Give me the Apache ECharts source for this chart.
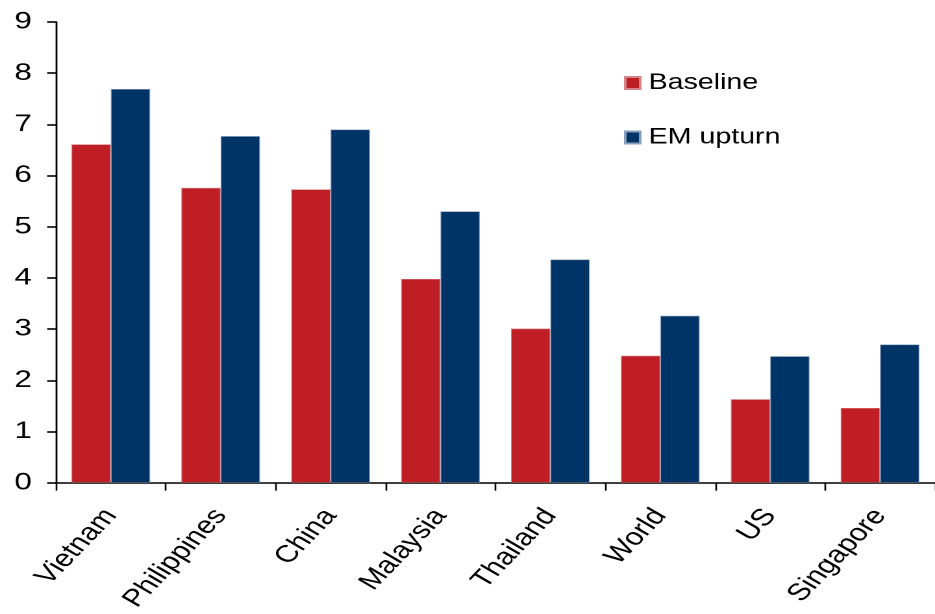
<!DOCTYPE html>
<html>
<head>
<meta charset="utf-8">
<script src="https://cdn.jsdelivr.net/npm/echarts@6/dist/echarts.min.js"></script>
<style>
  html, body { margin: 0; padding: 0; background: #fff; overflow: hidden; }
  /* The chart is laid out on a 720px-wide canvas and widened to 935px. */
  #chart {
    width: 720px;
    height: 614px;
    transform: scaleX(1.29861);
    transform-origin: 0 0;
  }
</style>
</head>
<body>
<div id="chart"></div>
<script>
// Growth outlook by economy, two scenarios
const categories = ['Vietnam', 'Philippines', 'China', 'Malaysia', 'Thailand', 'World', 'US', 'Singapore'];
const baseline = [6.61, 5.76, 5.73, 3.98, 3.01, 2.48, 1.63, 1.46];
const emUpturn = [7.69, 6.77, 6.90, 5.30, 4.36, 3.26, 2.47, 2.70];
const yTicks = [0, 1, 2, 3, 4, 5, 6, 7, 8, 9];

const FONT = 'Liberation Sans, Arial, Helvetica, sans-serif';
const RED = '#BE1E24';
const BLUE = '#003366';

const chart = echarts.init(document.getElementById('chart'), null, {
  renderer: 'canvas',
  devicePixelRatio: 2
});

chart.setOption({
  backgroundColor: '#ffffff',
  animation: false,
  textStyle: { fontFamily: FONT, color: '#000' },
  grid: { left: 43, top: 22, bottom: 128, width: 680, containLabel: false },
  legend: {
    orient: 'vertical',
    left: 475.5,
    top: 67,
    itemWidth: 11.5,
    itemHeight: 12,
    itemGap: 32.5,
    icon: 'rect',
    textStyle: {
      fontFamily: FONT,
      fontSize: 22,
      lineHeight: 22,
      color: '#000',
      padding: [0, 0, 0, 1.5]
    },
    data: ['Baseline', 'EM upturn']
  },
  xAxis: {
    type: 'category',
    data: categories,
    axisLine: { lineStyle: { color: '#000', width: 1.6 } },
    axisTick: { show: true, length: 8, alignWithLabel: false, lineStyle: { color: '#000', width: 1.3 } },
    axisLabel: {
      rotate: 53,
      interval: 0,
      margin: 29,
      fontFamily: FONT,
      fontSize: 24,
      color: '#000'
    },
    splitLine: { show: false }
  },
  yAxis: {
    type: 'value',
    min: yTicks[0],
    max: yTicks[yTicks.length - 1],
    interval: 1,
    axisLine: { show: true, lineStyle: { color: '#000', width: 1.4 } },
    axisTick: { show: true, length: 6.7, lineStyle: { color: '#000', width: 1.6 } },
    axisLabel: { margin: 18.5, fontFamily: FONT, fontSize: 24, color: '#000' },
    splitLine: { show: false }
  },
  series: [
    {
      name: 'Baseline',
      type: 'bar',
      data: baseline,
      barWidth: 30.3,
      barGap: '0%',
      itemStyle: { color: RED, borderColor: '#d8858a', borderWidth: 0.6 }
    },
    {
      name: 'EM upturn',
      type: 'bar',
      data: emUpturn,
      barWidth: 30.3,
      barGap: '0%',
      itemStyle: { color: BLUE, borderColor: '#8aa0bd', borderWidth: 0.6 }
    }
  ]
});
</script>
</body>
</html>
